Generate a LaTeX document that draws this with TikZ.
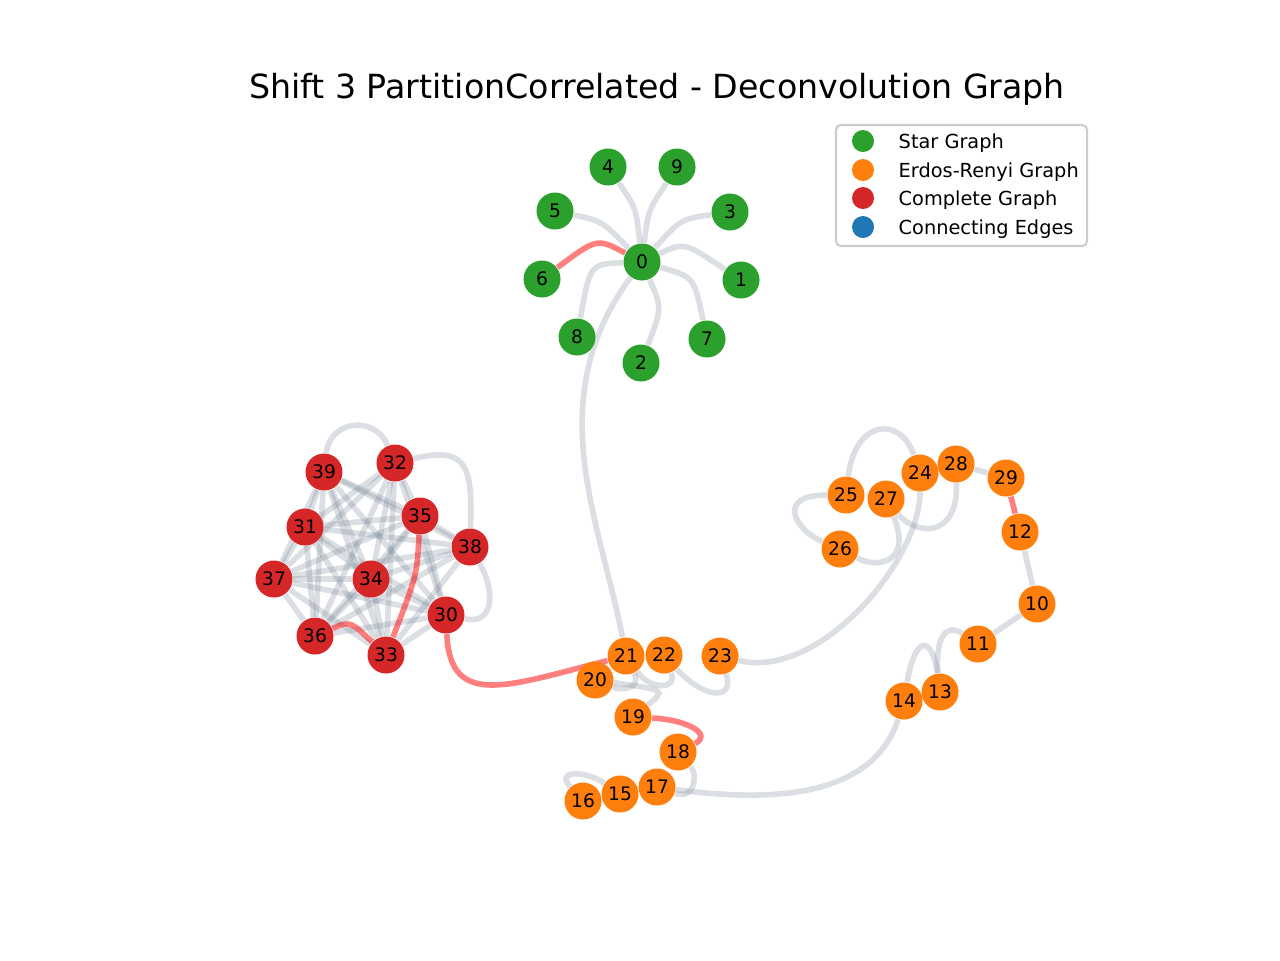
\documentclass[tikz,border=0pt]{standalone}
\usepackage{fontspec}
\setmainfont{DejaVu Sans}
\usetikzlibrary{backgrounds}
\definecolor{stargreen}{HTML}{2CA02C}
\definecolor{erorange}{HTML}{FF7F0E}
\definecolor{fullred}{HTML}{D62728}
\definecolor{linkblue}{HTML}{1F77B4}
\definecolor{slate}{HTML}{708090}
\definecolor{framegray}{HTML}{CCCCCC}

\begin{document}
\begin{tikzpicture}[
    x=0.01cm, y=-0.01cm,
    every node/.style={font=\fontsize{5.3}{6}\selectfont},
    vertex/.style={circle, inner sep=0pt, minimum size=0.37cm},
    starnode/.style={vertex, fill=stargreen},
    ernode/.style={vertex, fill=erorange},
    fullnode/.style={vertex, fill=fullred},
    grayedge/.style={draw=slate, draw opacity=0.25, line width=1.6pt},
    rededge/.style={draw=red, draw opacity=0.5, line width=1.6pt},
    marker/.style={circle, inner sep=0pt, minimum size=0.22cm},
    legendtext/.style={anchor=base west, inner sep=0pt, font=\fontsize{5.5}{6.6}\selectfont}
]
\useasboundingbox (0,0) rectangle (1280,960);
\node[anchor=base, font=\fontsize{9.45}{11}\selectfont] (title) at (657,98) {Shift 3 PartitionCorrelated - Deconvolution Graph};

% star graph
\node[starnode] (n0) at (642,262) {0};
\node[starnode] (n1) at (741,280) {1};
\node[starnode] (n2) at (641,363) {2};
\node[starnode] (n3) at (730,212) {3};
\node[starnode] (n4) at (608,167) {4};
\node[starnode] (n5) at (555,211) {5};
\node[starnode] (n6) at (542,279) {6};
\node[starnode] (n7) at (707,339) {7};
\node[starnode] (n8) at (577,337) {8};
\node[starnode] (n9) at (677,167) {9};

% erdos-renyi graph
\node[ernode] (n10) at (1037,604) {10};
\node[ernode] (n11) at (978,644) {11};
\node[ernode] (n12) at (1020,532) {12};
\node[ernode] (n13) at (940,692) {13};
\node[ernode] (n14) at (904,701) {14};
\node[ernode] (n15) at (620,794) {15};
\node[ernode] (n16) at (583,801) {16};
\node[ernode] (n17) at (657,787) {17};
\node[ernode] (n18) at (678,752) {18};
\node[ernode] (n19) at (633,717) {19};
\node[ernode] (n20) at (595,680) {20};
\node[ernode] (n21) at (626,656) {21};
\node[ernode] (n22) at (664,655) {22};
\node[ernode] (n23) at (720,656) {23};
\node[ernode] (n24) at (920,473) {24};
\node[ernode] (n25) at (846,495) {25};
\node[ernode] (n26) at (840,549) {26};
\node[ernode] (n27) at (886,499) {27};
\node[ernode] (n28) at (956,464) {28};
\node[ernode] (n29) at (1006,478) {29};

% complete graph
\node[fullnode] (n30) at (446,615) {30};
\node[fullnode] (n31) at (305,527) {31};
\node[fullnode] (n32) at (395,463) {32};
\node[fullnode] (n33) at (386,655) {33};
\node[fullnode] (n34) at (371,579) {34};
\node[fullnode] (n35) at (420,516) {35};
\node[fullnode] (n36) at (315,636) {36};
\node[fullnode] (n37) at (274,579) {37};
\node[fullnode] (n38) at (470,547) {38};
\node[fullnode] (n39) at (324,472) {39};

\begin{scope}[on background layer]
% star edges
\draw[grayedge] (n0) .. controls (684,242) .. (n1);
\draw[grayedge] (n0) .. controls (662,308) .. (n2);
\draw[grayedge] (n0) .. controls (681,219) .. (n3);
\draw[grayedge] (n0) .. controls (636,208) .. (n4);
\draw[grayedge] (n0) .. controls (602,221) .. (n5);
\draw[rededge] (n0) .. controls (597,238) .. (n6);
\draw[grayedge] (n0) .. controls (694,277) .. (n7);
\draw[grayedge] (n0) .. controls (590,264) .. (n8);
\draw[grayedge] (n0) .. controls (648,211) .. (n9);
\draw[grayedge] (n0) .. controls (540,400) and (600,520) .. (n21);

% complete graph edges
\foreach \a/\b in {30/31,30/32,30/33,30/34,30/35,30/36,30/37,30/39,
                   31/32,31/33,31/34,31/35,31/36,31/37,31/38,31/39,
                   32/33,32/34,32/35,32/36,32/37,
                   33/34,33/37,33/38,33/39,
                   34/35,34/36,34/37,34/38,34/39,
                   35/36,35/37,35/38,35/39,
                   36/37,36/38,36/39,
                   37/38,37/39,38/39}
  \draw[grayedge] (n\a) -- (n\b);
\draw[grayedge] (n39) .. controls (330,420) and (375,415) .. (n32);
\draw[grayedge] (n32) .. controls (470,445) and (472,470) .. (n38);
\draw[grayedge] (n38) .. controls (495,590) and (495,625) .. (n30);
\draw[rededge] (n35) .. controls (417,575) .. (n33);
\draw[rededge] (n36) .. controls (350,621) .. (n33);
\draw[rededge] (n30) .. controls (450,710) and (510,685) .. (n21);

% erdos-renyi edges
\draw[grayedge] (n21) .. controls (642,690) and (620,690) .. (n20);
\draw[grayedge] (n20) .. controls (666,690) .. (n19);
\draw[grayedge] (n21) .. controls (650,690) and (678,690) .. (n22);
\draw[grayedge] (n22) .. controls (705,700) and (735,700) .. (n23);
\draw[grayedge] (n23) .. controls (820,680) and (920,560) .. (n24);
\draw[rededge] (n19) .. controls (690,720) and (712,735) .. (n18);
\draw[grayedge] (n18) .. controls (698,775) and (695,800) .. (n17);
\draw[grayedge] (n17) .. controls (790,805) and (875,790) .. (n14);
\draw[grayedge] (n16) .. controls (555,770) and (585,770) .. (n15);
\draw[grayedge] (n14) .. controls (915,635) and (932,635) .. (n13);
\draw[grayedge] (n13) .. controls (935,640) and (945,622) .. (n11);
\draw[grayedge] (n11) -- (n10);
\draw[grayedge] (n10) -- (n12);
\draw[rededge] (n12) -- (n29);
\draw[grayedge] (n29) -- (n28);
\draw[grayedge] (n28) .. controls (958,540) and (915,535) .. (n27);
\draw[grayedge] (n25) .. controls (855,420) and (900,415) .. (n24);
\draw[grayedge] (n25) .. controls (775,495) and (795,530) .. (n26);
\draw[grayedge] (n27) .. controls (912,560) and (880,570) .. (n26);
\end{scope}

% legend
\node[draw=framegray, line width=0.6pt, fill=white, fill opacity=0.8, rounded corners=0.05cm,
      minimum width=2.51cm, minimum height=1.21cm, inner sep=0pt] (legend) at (961.5,185.5) {};
\node[marker, fill=stargreen] (mstar) at (863,141) {};
\node[marker, fill=erorange] (mer) at (863,170) {};
\node[marker, fill=fullred] (mfull) at (863,198) {};
\node[marker, fill=linkblue] (mlink) at (863,227) {};
\node[legendtext] (tstar) at (898,148) {Star Graph};
\node[legendtext] (ter) at (898,177) {Erdos-Renyi Graph};
\node[legendtext] (tfull) at (898,205) {Complete Graph};
\node[legendtext] (tlink) at (898,234) {Connecting Edges};
\end{tikzpicture}
\end{document}
